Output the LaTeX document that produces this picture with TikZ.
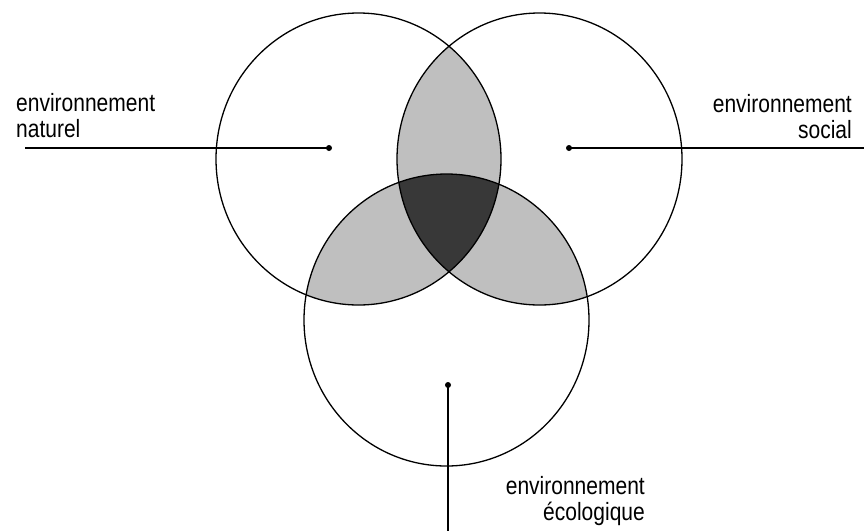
\documentclass[tikz,border=0pt]{standalone}
\usepackage{fontspec}
\setmainfont{Liberation Sans}[FakeStretch=0.84]
\tikzset{
  ring/.style={draw=black, line width=1.3pt},
  lightfill/.style={fill=black!25},
  darkfill/.style={fill=black!78},
  dotmark/.style={circle, fill=black, inner sep=0pt, minimum size=6pt},
  leader/.style={draw=black, line width=1.1pt},
  lbl/.style={inner sep=0pt, font=\fontsize{25}{26}\selectfont}
}
\begin{document}
\begin{tikzpicture}[x=1pt, y=-1pt]
\useasboundingbox (0,0) rectangle (864,531);
% centres
\coordinate (cA) at (358.5,159);
\coordinate (cB) at (539.5,159);
\coordinate (cC) at (446.5,320);
\def\rx{142.5}
\def\ry{146}
% pairwise overlaps
\begin{scope}
  \clip (cA) ellipse [x radius=\rx, y radius=\ry];
  \fill[lightfill] (cB) ellipse [x radius=\rx, y radius=\ry];
  \fill[lightfill] (cC) ellipse [x radius=\rx, y radius=\ry];
\end{scope}
\begin{scope}
  \clip (cB) ellipse [x radius=\rx, y radius=\ry];
  \fill[lightfill] (cC) ellipse [x radius=\rx, y radius=\ry];
\end{scope}
% triple overlap
\begin{scope}
  \clip (cA) ellipse [x radius=\rx, y radius=\ry];
  \clip (cB) ellipse [x radius=\rx, y radius=\ry];
  \fill[darkfill] (cC) ellipse [x radius=\rx, y radius=\ry];
\end{scope}
% outlines
\draw[ring] (cA) ellipse [x radius=\rx, y radius=\ry];
\draw[ring] (cB) ellipse [x radius=\rx, y radius=\ry];
\draw[ring] (cC) ellipse [x radius=\rx, y radius=\ry];
% dots and leaders
\node[dotmark] (dA) at (329,148) {};
\node[dotmark] (dB) at (569,148) {};
\node[dotmark] (dC) at (448,385) {};
\coordinate (eA) at (25,148);
\coordinate (eB) at (864,148);
\coordinate (eC) at (448,531);
\draw[leader] (eA) -- (dA.center);
\draw[leader] (dB.center) -- (eB);
\draw[leader] (dC.center) -- (eC);
% labels
\node[lbl, align=left, anchor=base west] (tA) at (16,137) {environnement\\naturel};
\node[lbl, align=right, anchor=base east] (tB) at (852,138) {environnement\\social};
\node[lbl, align=right, anchor=base east] (tC) at (645,520) {environnement\\écologique};
\end{tikzpicture}
\end{document}
